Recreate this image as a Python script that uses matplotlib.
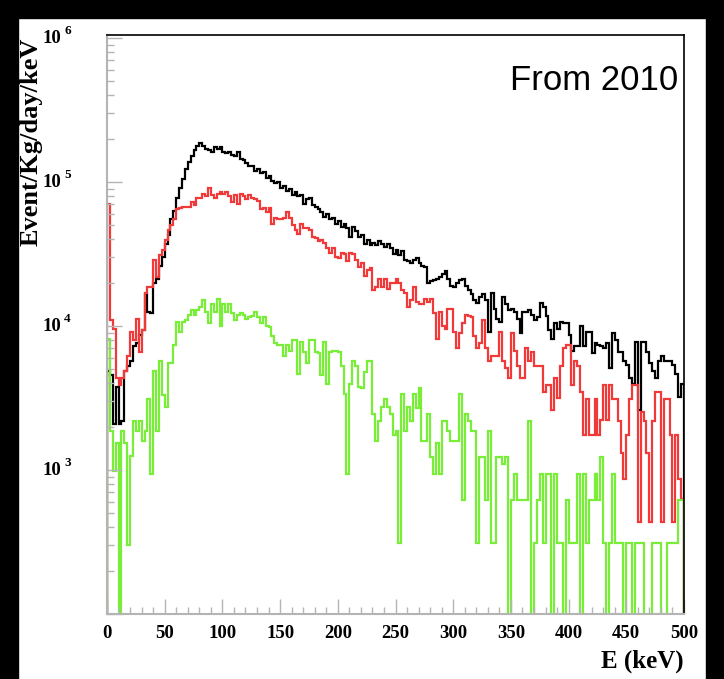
import numpy as np
import matplotlib
matplotlib.use('Agg')
import matplotlib.pyplot as plt
from matplotlib.ticker import MultipleLocator, LogLocator, NullFormatter, FixedLocator
from matplotlib.transforms import blended_transform_factory, ScaledTranslation
from matplotlib.patches import Rectangle

# 200 bins of 2.5 keV from 0 to 500 keV
edges = np.linspace(0, 500, 201)

# log10 of Event/Kg/day/keV per bin, None = empty bin
black_log = [
    3.69, 3.66, 3.32, 3.58, 3.32, 3.34, 3.69, 3.72, 3.76, 3.86,
    3.88, 3.94, 3.97, 4.22, 4.10, 4.09, 4.30, 4.33, 4.42, 4.48,
    4.57, 4.63, 4.74, 4.80, 4.89, 4.96, 5.02, 5.09, 5.14, 5.18,
    5.22, 5.25, 5.27, 5.25, 5.23, 5.22, 5.21, 5.24, 5.23, 5.24,
    5.21, 5.20, 5.21, 5.19, 5.18, 5.21, 5.16, 5.15, 5.13, 5.11,
    5.11, 5.08, 5.09, 5.06, 5.07, 5.03, 5.04, 5.01, 4.99, 5.00,
    4.96, 4.97, 4.94, 4.95, 4.91, 4.93, 4.90, 4.91, 4.85, 4.88,
    4.89, 4.84, 4.83, 4.81, 4.79, 4.76, 4.78, 4.74, 4.75, 4.71,
    4.73, 4.69, 4.71, 4.68, 4.62, 4.69, 4.66, 4.62, 4.63, 4.57,
    4.60, 4.56, 4.58, 4.56, 4.59, 4.57, 4.55, 4.57, 4.54, 4.50,
    4.53, 4.49, 4.52, 4.46, 4.45, 4.44, 4.46, 4.47, 4.44, 4.42,
    4.41, 4.30, 4.31, 4.32, 4.33, 4.34, 4.36, 4.38, 4.33, 4.28,
    4.27, 4.30, 4.32, 4.33, 4.28, 4.25, 4.22, 4.18, 4.16, 4.20,
    4.22, 4.18, 3.96, 4.23, 4.12, 4.05, 4.03, 4.20, 4.15, 4.11,
    4.12, 4.10, 4.05, 3.95, 4.10, 4.10, 4.11, 4.08, 4.04, 4.06,
    4.16, 4.13, 4.07, 3.97, 3.91, 4.02, 3.98, 4.03, 4.02, 4.02,
    3.94, 3.83, 3.86, 3.86, 4.00, 3.86, 3.96, 3.96, 3.81, 3.88,
    3.87, 3.86, 3.85, 3.88, 3.71, 3.95, 3.90, 3.82, 3.82, 3.76,
    3.73, 3.64, 3.60, 3.89, 3.42, 3.89, 3.89, 3.82, 3.74, 3.69,
    3.64, 3.76, 3.79, 3.76, 3.76, 3.76, 3.73, 3.67, 3.51, 3.60,
]

red_log = [
    4.85, 4.04, 3.98, 3.64, 3.59, 3.64, 3.69, 3.79, 3.96, 3.90,
    4.05, 3.82, 3.97, 4.23, 4.27, 4.27, 4.46, 4.34, 4.49, 4.53,
    4.60, 4.67, 4.70, 4.74, 4.81, 4.82, 4.83, 4.83, 4.83, 4.86,
    4.84, 4.89, 4.89, 4.92, 4.90, 4.96, 4.91, 4.89, 4.92, 4.93,
    4.92, 4.93, 4.90, 4.86, 4.91, 4.85, 4.92, 4.90, 4.88, 4.91,
    4.89, 4.88, 4.87, 4.81, 4.82, 4.79, 4.82, 4.71, 4.75, 4.74,
    4.74, 4.75, 4.79, 4.75, 4.70, 4.67, 4.64, 4.71, 4.68, 4.68,
    4.67, 4.62, 4.61, 4.59, 4.60, 4.58, 4.54, 4.51, 4.54, 4.48,
    4.47, 4.51, 4.50, 4.45, 4.51, 4.50, 4.46, 4.41, 4.44, 4.35,
    4.39, 4.40, 4.25, 4.27, 4.33, 4.27, 4.33, 4.26, 4.30, 4.30,
    4.33, 4.30, 4.25, 4.23, 4.13, 4.18, 4.27, 4.17, 4.15, 4.15,
    4.19, 4.17, 4.19, 4.09, 3.91, 4.10, 4.00, 3.98, 4.12, 4.12,
    3.96, 3.85, 3.95, 4.02, 4.08, 4.07, 4.06, 3.93, 3.85, 3.88,
    4.04, 3.85, 3.76, 3.79, 3.79, 3.79, 3.96, 3.76, 3.71, 3.64,
    3.95, 3.83, 3.72, 3.64, 3.64, 3.85, 3.76, 3.82, 3.72, 3.72,
    3.72, 3.54, 3.59, 3.59, 3.42, 3.64, 3.50, 3.72, 3.85, 3.87,
    3.87, 3.59, 3.76, 3.72, 3.54, 3.24, 3.49, 3.24, 3.24, 3.49,
    3.24, 3.35, 3.59, 3.35, 3.59, 3.49, 3.49, 3.34, 3.12, 2.94,
    3.24, 3.49, 3.59, 3.59, 2.64, 3.40, 3.34, 3.12, 2.64, 3.34,
    3.54, 3.54, 2.64, 3.49, 3.49, 3.24, 2.64, 3.24, 2.94, 2.80,
]

green_log = [
    3.91, 3.27, 2.99, 3.19, None, 3.27, 3.19, 2.48, 3.10, 3.34,
    3.27, 3.34, 3.20, 3.27, 3.49, 2.97, 3.69, 3.27, 3.76, 3.52,
    3.44, 3.74, 3.74, 3.87, 4.03, 3.96, 4.03, 4.04, 4.08, 4.11,
    4.08, 4.11, 4.13, 4.18, 4.10, 4.02, 4.15, 4.10, 4.19, 4.00,
    4.15, 4.10, 4.15, 4.09, 4.04, 4.08, 4.09, 4.08, 4.05, 4.06,
    4.07, 4.10, 4.06, 4.02, 4.06, 4.00, 3.99, 3.93, 3.88, 3.87,
    3.87, 3.79, 3.87, 3.83, 3.90, 3.90, 3.67, 3.89, 3.82, 3.74,
    3.90, 3.90, 3.82, 3.81, 3.66, 3.89, 3.60, 3.82, 3.83, 3.83,
    3.82, 3.72, 3.53, 2.97, 3.60, 3.76, 3.72, 3.58, 3.57, 3.68,
    3.76, 3.76, 3.39, 3.20, 3.34, 3.44, 3.49, 3.44, 3.39, 3.24,
    3.27, 2.49, 3.53, 3.27, 3.44, 3.34, 3.53, 3.43, 3.57, 3.20,
    3.20, 3.39, 3.09, 2.97, 3.19, 2.97, 3.34, 3.34, 3.27, 3.20,
    3.20, 3.20, 3.53, 2.79, 3.39, 3.34, 3.27, 3.27, 2.49, 3.09,
    3.09, 2.79, 3.27, 2.49, 2.49, 3.09, 3.09, 3.04, 3.09, None,
    2.79, 2.97, 2.79, 2.79, 2.79, 2.79, 3.34, None, 2.49, 2.79,
    2.97, 2.49, 2.97, 2.97, None, 2.97, 2.49, 2.49, None, 2.79,
    2.49, 2.49, 2.49, 2.97, None, 2.97, 2.49, 2.79, 2.79, 2.97,
    2.79, 3.09, 2.49, None, 2.49, 2.97, 2.49, 2.49, 2.49, None,
    2.49, 2.49, None, 2.49, 2.49, 2.49, None, None, None, 2.49,
    2.49, 2.49, None, None, 2.49, 2.49, 2.49, 2.49, 2.79, 2.79,
]

x_ticks = [0, 50, 100, 150, 200, 250, 300, 350, 400, 450, 500]
y_decades = [3, 4, 5, 6]


def to_values(logs):
    return np.array([10.0 ** v if v is not None else 0.0 for v in logs])


fig = plt.figure(figsize=(7.24, 6.79), dpi=100)
fig.patch.set_facecolor('white')
ax = fig.add_axes([107 / 724, 65 / 679, 577 / 724, 579 / 679])

floor = 1.0
for logs, col in [(black_log, 'black'), (red_log, '#f03a3a'), (green_log, '#78ee38')]:
    vals = to_values(logs)
    ax.stairs(np.where(vals > 0, vals, floor), edges, baseline=floor,
              color=col, lw=1.6)

ax.set_yscale('log')
ax.set_xlim(0, 500)
ax.set_ylim(100, 1.05e6)

grey = '#b4b4b4'
ax.xaxis.set_major_locator(FixedLocator(x_ticks))
ax.xaxis.set_minor_locator(MultipleLocator(10))
ax.yaxis.set_major_locator(LogLocator(base=10, numticks=10))
ax.yaxis.set_minor_locator(LogLocator(base=10, subs=np.arange(2, 10), numticks=20))
ax.yaxis.set_major_formatter(NullFormatter())
ax.yaxis.set_minor_formatter(NullFormatter())
ax.tick_params(which='both', direction='in', color=grey, top=False, right=False)
ax.tick_params(which='major', length=11, width=1)
ax.tick_params(which='minor', length=5, width=1)
ax.tick_params(axis='x', pad=8)
for lab in ax.get_xticklabels():
    lab.set_fontfamily('Liberation Serif')
    lab.set_fontweight('bold')
    lab.set_fontsize(13.5)

for side in ['left', 'bottom']:
    ax.spines[side].set_color(grey)
    ax.spines[side].set_linewidth(1.5)
for side in ['top', 'right']:
    ax.spines[side].set_color('black')
    ax.spines[side].set_linewidth(1.2)

# ROOT-style "10 ^n" labels
trans = blended_transform_factory(ax.transAxes, ax.transData)
for e in y_decades:
    ax.text(-0.080, 10.0 ** e, '10', transform=trans, ha='right', va='center',
            fontfamily='Liberation Serif', fontweight='bold', fontsize=13.5)
    ax.text(-0.074, 10.0 ** e, str(e),
            transform=trans + ScaledTranslation(0, 5 / 72, fig.dpi_scale_trans),
            ha='left', va='center', fontfamily='Liberation Serif',
            fontweight='bold', fontsize=9.5)

ax.set_ylabel('Event/Kg/day/keV', fontfamily='Liberation Serif', fontweight='bold',
              fontsize=19)
ax.yaxis.set_label_coords(-0.112, 0.995)
ax.yaxis.label.set_horizontalalignment('right')

ax.set_xlabel('E (keV)', fontfamily='Liberation Serif', fontweight='bold', fontsize=18)
ax.xaxis.set_label_coords(1.0, -0.062)
ax.xaxis.label.set_horizontalalignment('right')

ax.text(0.99, 0.922, 'From 2010', transform=ax.transAxes, ha='right', va='center',
        fontfamily='Liberation Sans', fontsize=25)

# black border around the canvas
fig.patches.append(Rectangle((0, 0), 18 / 724, 1, transform=fig.transFigure,
                             color='black', zorder=-1))
fig.patches.append(Rectangle((0, 1 - 18 / 679), 1, 18 / 679, transform=fig.transFigure,
                             color='black', zorder=-1))
fig.patches.append(Rectangle((1 - 18 / 724, 0), 18 / 724, 1, transform=fig.transFigure,
                             color='black', zorder=-1))

fig.savefig('out.png', dpi=100)
